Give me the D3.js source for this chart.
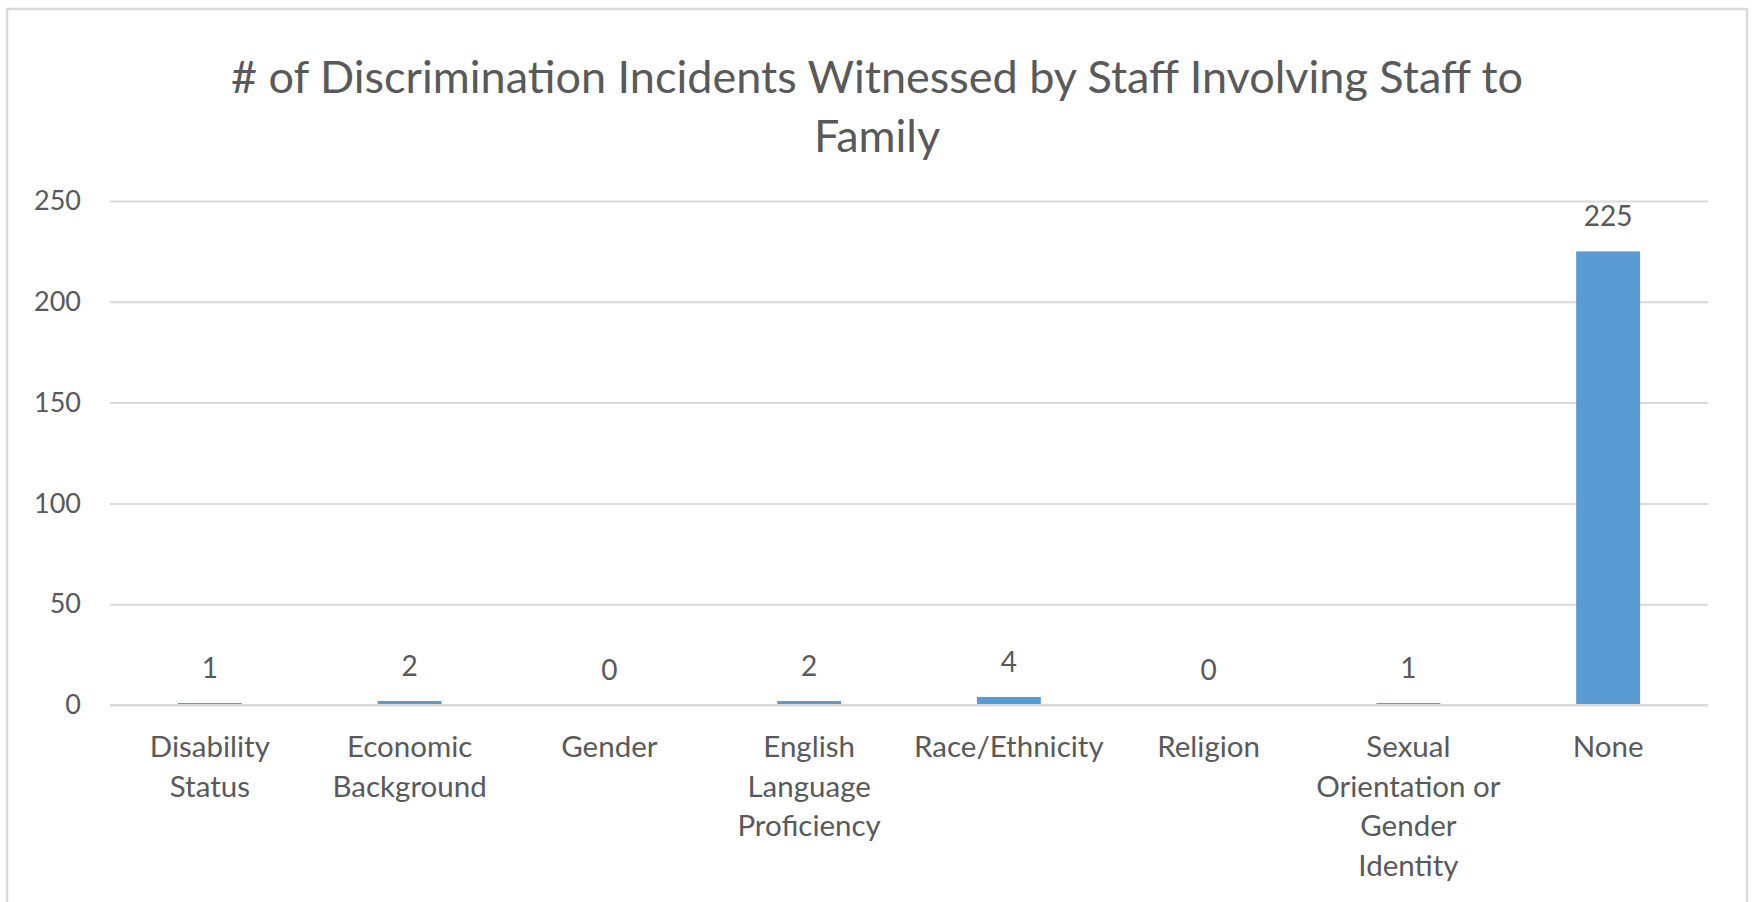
<!DOCTYPE html>
<html>
<head>
<meta charset="utf-8">
<script src="https://cdn.jsdelivr.net/npm/d3@7"></script>
<style>
  html, body { margin: 0; padding: 0; background: #fff; }
  svg { display: block; }
  text { font-family: Lato, "Open Sans", sans-serif; fill: #595959; }
</style>
</head>
<body>
<svg id="chart" width="1755" height="902"></svg>
<script>
// Chart data
const titleLines = ["# of Discrimination Incidents Witnessed by Staff Involving Staff to", "Family"];
const categories = ["Disability Status", "Economic Background", "Gender", "English Language Proficiency",
                    "Race/Ethnicity", "Religion", "Sexual Orientation or Gender Identity", "None"];
const categoryLines = [["Disability", "Status"], ["Economic", "Background"], ["Gender"],
                       ["English", "Language", "Proficiency"], ["Race/Ethnicity"], ["Religion"],
                       ["Sexual", "Orientation or", "Gender", "Identity"], ["None"]];
const counts = [1, 2, 0, 2, 4, 0, 1, 225];
const yTicks = [0, 50, 100, 150, 200, 250];

const W = 1755, H = 902;
const margin = { left: 110, right: 47, top: 201, bottom: 197 };

const svg = d3.select("#chart");
svg.append("rect").attr("width", W).attr("height", H).attr("fill", "#fff");

// chart frame
svg.append("rect")
  .attr("x", 7).attr("y", 9).attr("width", 1740).attr("height", 920)
  .attr("fill", "none").attr("stroke", "#d9d9d9").attr("stroke-width", 2.5);

const x = d3.scaleBand()
  .domain(categories)
  .range([margin.left, W - margin.right])
  .paddingInner(0.68).paddingOuter(0.34);

const y = d3.scaleLinear().domain([0, 250]).range([H - margin.bottom, margin.top]);

// title
const title = svg.append("text")
  .attr("text-anchor", "middle")
  .style("font-size", "45px");
titleLines.forEach((t, i) => {
  title.append("tspan").attr("x", 877).attr("y", 93 + i * 59).text(t);
});

// horizontal gridlines + y tick labels
const yAxis = d3.axisLeft(y).tickValues(yTicks).tickSize(-(W - margin.right - margin.left)).tickPadding(29);
const gy = svg.append("g").attr("transform", `translate(${margin.left},0)`).call(yAxis);
gy.select(".domain").remove();
gy.selectAll(".tick line").attr("stroke", "#d9d9d9").attr("stroke-width", 2);
gy.selectAll(".tick text")
  .attr("fill", "#595959")
  .style("font-family", "Lato, sans-serif")
  .style("font-size", "27px");

// bars
svg.append("g").selectAll("rect")
  .data(counts)
  .join("rect")
  .attr("x", (d, i) => x(categories[i]))
  .attr("width", x.bandwidth())
  .attr("y", d => y(d))
  .attr("height", d => y(0) - y(d))
  .attr("fill", "#5b9bd5");

// category axis line, drawn over the bar bases
svg.append("line")
  .attr("x1", margin.left).attr("x2", W - margin.right)
  .attr("y1", y(0)).attr("y2", y(0))
  .attr("stroke", "#d9d9d9").attr("stroke-width", 2);

// value labels
svg.append("g").selectAll("text")
  .data(counts)
  .join("text")
  .attr("text-anchor", "middle")
  .attr("x", (d, i) => x(categories[i]) + x.bandwidth() / 2)
  .attr("y", d => y(d) - 25)
  .style("font-size", "28px")
  .text(d => d);

// category labels
const gx = svg.append("g");
categories.forEach((c, i) => {
  const t = gx.append("text")
    .attr("text-anchor", "middle")
    .style("font-size", "29.5px");
  categoryLines[i].forEach((line, j) => {
    t.append("tspan")
      .attr("x", x(c) + x.bandwidth() / 2)
      .attr("y", 757 + j * 39.5)
      .text(line);
  });
});
</script>
</body>
</html>
